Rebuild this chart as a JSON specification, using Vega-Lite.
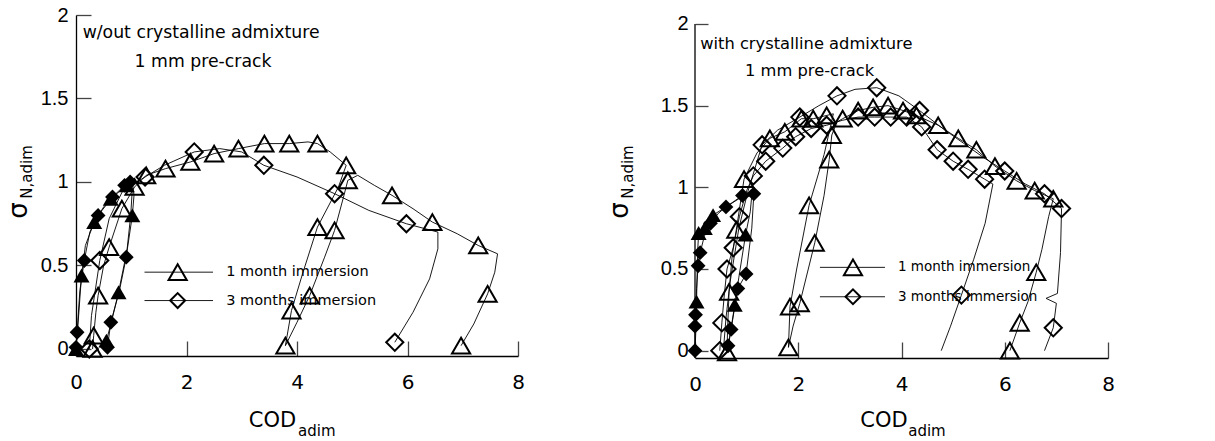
{
  "$schema": "https://vega.github.io/schema/vega-lite/v6.json",
  "background": "white",
  "padding": {"left": 5, "top": 5, "right": 5, "bottom": 5},
  "spacing": 81,
  "config": {
    "view": {"stroke": null},
    "font": "DejaVu Sans",
    "axis": {
      "grid": false,
      "domainColor": "black",
      "domainWidth": 1.3,
      "tickColor": "#444",
      "tickWidth": 1.3,
      "labelColor": "black",
      "labelFontSize": 20,
      "labelOverlap": false,
      "labelFlush": false,
      "titleColor": "black",
      "titleFontWeight": "normal"
    }
  },
  "datasets": {
    "left": [
      {"s": "a", "x": 0.0, "y": 0.0, "m": "FT"},
      {"s": "a", "x": 0.03, "y": 0.12, "m": ""},
      {"s": "a", "x": 0.1, "y": 0.44, "m": "FT"},
      {"s": "a", "x": 0.17, "y": 0.62, "m": ""},
      {"s": "a", "x": 0.33, "y": 0.76, "m": "FT"},
      {"s": "a", "x": 0.5, "y": 0.85, "m": ""},
      {"s": "a", "x": 0.63, "y": 0.9, "m": "FT"},
      {"s": "a", "x": 0.92, "y": 0.98, "m": "FT"},
      {"s": "a", "x": 1.02, "y": 1.0, "m": ""},
      {"s": "a", "x": 1.05, "y": 0.92, "m": ""},
      {"s": "a", "x": 1.02, "y": 0.8, "m": "FT"},
      {"s": "a", "x": 0.93, "y": 0.6, "m": ""},
      {"s": "a", "x": 0.77, "y": 0.34, "m": "FT"},
      {"s": "a", "x": 0.64, "y": 0.16, "m": ""},
      {"s": "a", "x": 0.55, "y": 0.05, "m": "FT"},
      {"s": "a", "x": 0.52, "y": 0.0, "m": ""},
      {"s": "b", "x": 0.0, "y": 0.01, "m": "FD"},
      {"s": "b", "x": 0.02, "y": 0.1, "m": "FD"},
      {"s": "b", "x": 0.07, "y": 0.35, "m": ""},
      {"s": "b", "x": 0.15, "y": 0.53, "m": "FD"},
      {"s": "b", "x": 0.25, "y": 0.7, "m": ""},
      {"s": "b", "x": 0.4, "y": 0.8, "m": "FD"},
      {"s": "b", "x": 0.66, "y": 0.91, "m": "FD"},
      {"s": "b", "x": 0.88, "y": 0.98, "m": "FD"},
      {"s": "b", "x": 0.98, "y": 1.0, "m": "FD"},
      {"s": "b", "x": 1.02, "y": 0.96, "m": ""},
      {"s": "b", "x": 0.99, "y": 0.8, "m": ""},
      {"s": "b", "x": 0.91, "y": 0.55, "m": "FD"},
      {"s": "b", "x": 0.78, "y": 0.34, "m": ""},
      {"s": "b", "x": 0.63, "y": 0.16, "m": "FD"},
      {"s": "b", "x": 0.57, "y": 0.01, "m": "FD"},
      {"s": "c", "x": 0.3, "y": 0.0, "m": "T"},
      {"s": "c", "x": 0.32, "y": 0.08, "m": "T"},
      {"s": "c", "x": 0.36, "y": 0.22, "m": ""},
      {"s": "c", "x": 0.4, "y": 0.32, "m": "T"},
      {"s": "c", "x": 0.5, "y": 0.5, "m": ""},
      {"s": "c", "x": 0.6, "y": 0.61, "m": "T"},
      {"s": "c", "x": 0.83, "y": 0.84, "m": "T"},
      {"s": "c", "x": 1.06, "y": 0.97, "m": "T"},
      {"s": "c", "x": 1.27, "y": 1.04, "m": "T"},
      {"s": "c", "x": 1.62, "y": 1.08, "m": "T"},
      {"s": "c", "x": 2.07, "y": 1.12, "m": "T"},
      {"s": "c", "x": 2.5, "y": 1.17, "m": "T"},
      {"s": "c", "x": 2.94, "y": 1.2, "m": "T"},
      {"s": "c", "x": 3.41, "y": 1.23, "m": "T"},
      {"s": "c", "x": 3.86, "y": 1.23, "m": "T"},
      {"s": "c", "x": 4.2, "y": 1.24, "m": ""},
      {"s": "c", "x": 4.37, "y": 1.23, "m": "T"},
      {"s": "c", "x": 4.6, "y": 1.18, "m": ""},
      {"s": "c", "x": 4.89, "y": 1.1, "m": "T"},
      {"s": "c", "x": 4.75, "y": 0.97, "m": ""},
      {"s": "c", "x": 4.37, "y": 0.73, "m": "T"},
      {"s": "c", "x": 4.1, "y": 0.45, "m": ""},
      {"s": "c", "x": 3.9, "y": 0.23, "m": "T"},
      {"s": "c", "x": 3.79, "y": 0.02, "m": "T"},
      {"s": "c", "x": 4.0, "y": 0.16, "m": ""},
      {"s": "c", "x": 4.23, "y": 0.32, "m": "T"},
      {"s": "c", "x": 4.5, "y": 0.55, "m": ""},
      {"s": "c", "x": 4.68, "y": 0.71, "m": "T"},
      {"s": "c", "x": 4.85, "y": 0.92, "m": ""},
      {"s": "c", "x": 4.92, "y": 1.01, "m": "T"},
      {"s": "c", "x": 5.1, "y": 1.04, "m": ""},
      {"s": "c", "x": 5.4, "y": 0.98, "m": ""},
      {"s": "c", "x": 5.72, "y": 0.92, "m": "T"},
      {"s": "c", "x": 6.1, "y": 0.84, "m": ""},
      {"s": "c", "x": 6.45, "y": 0.76, "m": "T"},
      {"s": "c", "x": 6.9, "y": 0.69, "m": ""},
      {"s": "c", "x": 7.28, "y": 0.62, "m": "T"},
      {"s": "c", "x": 7.63, "y": 0.57, "m": ""},
      {"s": "c", "x": 7.58, "y": 0.46, "m": ""},
      {"s": "c", "x": 7.45, "y": 0.33, "m": "T"},
      {"s": "c", "x": 7.2, "y": 0.15, "m": ""},
      {"s": "c", "x": 6.97, "y": 0.02, "m": "T"},
      {"s": "d", "x": 0.24, "y": 0.0, "m": "D"},
      {"s": "d", "x": 0.28, "y": 0.2, "m": ""},
      {"s": "d", "x": 0.43, "y": 0.53, "m": "D"},
      {"s": "d", "x": 0.6, "y": 0.78, "m": ""},
      {"s": "d", "x": 0.85, "y": 0.95, "m": ""},
      {"s": "d", "x": 1.25, "y": 1.03, "m": "D"},
      {"s": "d", "x": 1.6, "y": 1.1, "m": ""},
      {"s": "d", "x": 2.14, "y": 1.18, "m": "D"},
      {"s": "d", "x": 2.6, "y": 1.2, "m": ""},
      {"s": "d", "x": 3.0, "y": 1.18, "m": ""},
      {"s": "d", "x": 3.4, "y": 1.1, "m": "D"},
      {"s": "d", "x": 4.0, "y": 1.03, "m": ""},
      {"s": "d", "x": 4.68, "y": 0.93, "m": "D"},
      {"s": "d", "x": 5.3, "y": 0.83, "m": ""},
      {"s": "d", "x": 5.98, "y": 0.75, "m": "D"},
      {"s": "d", "x": 6.55, "y": 0.7, "m": ""},
      {"s": "d", "x": 6.55, "y": 0.6, "m": ""},
      {"s": "d", "x": 6.4, "y": 0.42, "m": ""},
      {"s": "d", "x": 6.1, "y": 0.22, "m": ""},
      {"s": "d", "x": 5.77, "y": 0.04, "m": "D"}
    ],
    "right": [
      {"s": "a", "x": 0.0, "y": 0.0, "m": ""},
      {"s": "a", "x": 0.02, "y": 0.15, "m": ""},
      {"s": "a", "x": 0.03, "y": 0.3, "m": "FT"},
      {"s": "a", "x": 0.05, "y": 0.6, "m": ""},
      {"s": "a", "x": 0.07, "y": 0.72, "m": "FT"},
      {"s": "a", "x": 0.19, "y": 0.75, "m": "FT"},
      {"s": "a", "x": 0.35, "y": 0.83, "m": "FT"},
      {"s": "a", "x": 0.6, "y": 0.88, "m": ""},
      {"s": "a", "x": 0.9, "y": 0.94, "m": ""},
      {"s": "a", "x": 1.1, "y": 0.95, "m": ""},
      {"s": "a", "x": 1.07, "y": 0.85, "m": ""},
      {"s": "a", "x": 0.98, "y": 0.71, "m": "FT"},
      {"s": "a", "x": 0.85, "y": 0.45, "m": ""},
      {"s": "a", "x": 0.77, "y": 0.28, "m": "FT"},
      {"s": "a", "x": 0.68, "y": 0.1, "m": ""},
      {"s": "a", "x": 0.64, "y": 0.0, "m": ""},
      {"s": "b", "x": 0.0, "y": 0.0, "m": "FD"},
      {"s": "b", "x": 0.0, "y": 0.15, "m": "FD"},
      {"s": "b", "x": 0.01, "y": 0.22, "m": "FD"},
      {"s": "b", "x": 0.03, "y": 0.38, "m": ""},
      {"s": "b", "x": 0.06, "y": 0.52, "m": "FD"},
      {"s": "b", "x": 0.1, "y": 0.6, "m": "FD"},
      {"s": "b", "x": 0.18, "y": 0.7, "m": ""},
      {"s": "b", "x": 0.3, "y": 0.78, "m": "FD"},
      {"s": "b", "x": 0.45, "y": 0.84, "m": ""},
      {"s": "b", "x": 0.6, "y": 0.88, "m": "FD"},
      {"s": "b", "x": 0.92, "y": 0.95, "m": "FD"},
      {"s": "b", "x": 1.14, "y": 0.96, "m": "FD"},
      {"s": "b", "x": 1.1, "y": 0.75, "m": ""},
      {"s": "b", "x": 0.99, "y": 0.47, "m": "FD"},
      {"s": "b", "x": 0.83, "y": 0.38, "m": "FD"},
      {"s": "b", "x": 0.76, "y": 0.25, "m": ""},
      {"s": "b", "x": 0.7, "y": 0.13, "m": "FD"},
      {"s": "b", "x": 0.64, "y": 0.03, "m": "FD"},
      {"s": "c", "x": 0.62, "y": -0.01, "m": "T"},
      {"s": "c", "x": 0.63, "y": 0.12, "m": ""},
      {"s": "c", "x": 0.66, "y": 0.36, "m": "T"},
      {"s": "c", "x": 0.72, "y": 0.58, "m": ""},
      {"s": "c", "x": 0.8, "y": 0.74, "m": "T"},
      {"s": "c", "x": 0.95, "y": 1.05, "m": "T"},
      {"s": "c", "x": 1.2, "y": 1.21, "m": ""},
      {"s": "c", "x": 1.45, "y": 1.3, "m": "T"},
      {"s": "c", "x": 1.74, "y": 1.34, "m": "T"},
      {"s": "c", "x": 2.06, "y": 1.42, "m": "T"},
      {"s": "c", "x": 2.29, "y": 1.42, "m": "T"},
      {"s": "c", "x": 2.55, "y": 1.44, "m": "T"},
      {"s": "c", "x": 2.68, "y": 1.45, "m": ""},
      {"s": "c", "x": 2.5, "y": 1.2, "m": ""},
      {"s": "c", "x": 2.21, "y": 0.89, "m": "T"},
      {"s": "c", "x": 1.97, "y": 0.5, "m": ""},
      {"s": "c", "x": 1.84, "y": 0.27, "m": "T"},
      {"s": "c", "x": 1.81, "y": 0.02, "m": "T"},
      {"s": "c", "x": 1.9, "y": 0.15, "m": ""},
      {"s": "c", "x": 2.03, "y": 0.29, "m": "T"},
      {"s": "c", "x": 2.32, "y": 0.66, "m": "T"},
      {"s": "c", "x": 2.5, "y": 0.95, "m": ""},
      {"s": "c", "x": 2.6, "y": 1.17, "m": "T"},
      {"s": "c", "x": 2.65, "y": 1.32, "m": "T"},
      {"s": "c", "x": 2.75, "y": 1.4, "m": ""},
      {"s": "c", "x": 2.86, "y": 1.42, "m": "T"},
      {"s": "c", "x": 3.16, "y": 1.47, "m": "T"},
      {"s": "c", "x": 3.45, "y": 1.49, "m": "T"},
      {"s": "c", "x": 3.74, "y": 1.5, "m": "T"},
      {"s": "c", "x": 4.03, "y": 1.47, "m": "T"},
      {"s": "c", "x": 4.29, "y": 1.44, "m": "T"},
      {"s": "c", "x": 4.71, "y": 1.38, "m": "T"},
      {"s": "c", "x": 5.1, "y": 1.3, "m": "T"},
      {"s": "c", "x": 5.45, "y": 1.23, "m": "T"},
      {"s": "c", "x": 5.81, "y": 1.13, "m": "T"},
      {"s": "c", "x": 6.23, "y": 1.04, "m": "T"},
      {"s": "c", "x": 6.58, "y": 0.98, "m": "T"},
      {"s": "c", "x": 6.94, "y": 0.93, "m": "T"},
      {"s": "c", "x": 6.85, "y": 0.82, "m": ""},
      {"s": "c", "x": 6.72, "y": 0.62, "m": ""},
      {"s": "c", "x": 6.61, "y": 0.48, "m": "T"},
      {"s": "c", "x": 6.45, "y": 0.3, "m": ""},
      {"s": "c", "x": 6.29, "y": 0.17, "m": "T"},
      {"s": "c", "x": 6.1, "y": 0.0, "m": "T"},
      {"s": "d", "x": 0.48, "y": 0.0, "m": "D"},
      {"s": "d", "x": 0.52, "y": 0.17, "m": "D"},
      {"s": "d", "x": 0.57, "y": 0.35, "m": ""},
      {"s": "d", "x": 0.62, "y": 0.5, "m": "D"},
      {"s": "d", "x": 0.74, "y": 0.63, "m": "D"},
      {"s": "d", "x": 0.86, "y": 0.82, "m": "D"},
      {"s": "d", "x": 1.0, "y": 0.98, "m": ""},
      {"s": "d", "x": 1.13, "y": 1.07, "m": "D"},
      {"s": "d", "x": 1.37, "y": 1.16, "m": "D"},
      {"s": "d", "x": 1.7, "y": 1.24, "m": "D"},
      {"s": "d", "x": 1.95, "y": 1.31, "m": "D"},
      {"s": "d", "x": 2.25, "y": 1.36, "m": "D"},
      {"s": "d", "x": 2.55, "y": 1.38, "m": "D"},
      {"s": "d", "x": 2.85, "y": 1.41, "m": ""},
      {"s": "d", "x": 3.16, "y": 1.43, "m": "D"},
      {"s": "d", "x": 3.48, "y": 1.43, "m": "D"},
      {"s": "d", "x": 3.79, "y": 1.43, "m": "D"},
      {"s": "d", "x": 4.1, "y": 1.43, "m": "D"},
      {"s": "d", "x": 4.39, "y": 1.37, "m": "D"},
      {"s": "d", "x": 4.69, "y": 1.23, "m": "D"},
      {"s": "d", "x": 5.0, "y": 1.16, "m": "D"},
      {"s": "d", "x": 5.29, "y": 1.11, "m": "D"},
      {"s": "d", "x": 5.61, "y": 1.05, "m": "D"},
      {"s": "d", "x": 5.77, "y": 1.02, "m": ""},
      {"s": "d", "x": 5.62, "y": 0.78, "m": ""},
      {"s": "d", "x": 5.4, "y": 0.56, "m": ""},
      {"s": "d", "x": 5.16, "y": 0.34, "m": "D"},
      {"s": "d", "x": 4.95, "y": 0.15, "m": ""},
      {"s": "d", "x": 4.77, "y": 0.0, "m": ""},
      {"s": "e", "x": 0.55, "y": 0.0, "m": ""},
      {"s": "e", "x": 0.6, "y": 0.2, "m": ""},
      {"s": "e", "x": 0.68, "y": 0.42, "m": ""},
      {"s": "e", "x": 0.85, "y": 0.75, "m": ""},
      {"s": "e", "x": 1.02, "y": 0.97, "m": ""},
      {"s": "e", "x": 1.3, "y": 1.26, "m": "D"},
      {"s": "e", "x": 1.6, "y": 1.35, "m": ""},
      {"s": "e", "x": 2.03, "y": 1.43, "m": "D"},
      {"s": "e", "x": 2.4, "y": 1.5, "m": ""},
      {"s": "e", "x": 2.75, "y": 1.56, "m": "D"},
      {"s": "e", "x": 3.1, "y": 1.6, "m": ""},
      {"s": "e", "x": 3.52, "y": 1.61, "m": "D"},
      {"s": "e", "x": 3.95, "y": 1.56, "m": ""},
      {"s": "e", "x": 4.35, "y": 1.47, "m": "D"},
      {"s": "e", "x": 4.8, "y": 1.36, "m": ""},
      {"s": "e", "x": 5.2, "y": 1.27, "m": ""},
      {"s": "e", "x": 5.6, "y": 1.18, "m": ""},
      {"s": "e", "x": 6.0, "y": 1.1, "m": "D"},
      {"s": "e", "x": 6.4, "y": 1.02, "m": ""},
      {"s": "e", "x": 6.77, "y": 0.96, "m": "D"},
      {"s": "e", "x": 7.1, "y": 0.87, "m": "D"},
      {"s": "e", "x": 7.08, "y": 0.6, "m": ""},
      {"s": "e", "x": 7.02, "y": 0.35, "m": ""},
      {"s": "e", "x": 6.8, "y": 0.32, "m": ""},
      {"s": "e", "x": 7.0, "y": 0.29, "m": ""},
      {"s": "e", "x": 6.94, "y": 0.14, "m": "D"},
      {"s": "e", "x": 6.77, "y": 0.0, "m": ""}
    ],
    "one": [{"k": 1}]
  },
  "hconcat": [
    {
      "width": 442,
      "height": 341,
      "layer": [
        {"data": {"name": "left"}, "mark": {"type": "line", "color": "black", "strokeWidth": 0.9},
         "encoding": {
           "x": {"field": "x", "type": "quantitative", "scale": {"domain": [0, 8], "nice": false, "zero": false},
             "axis": {"values": [0, 2, 4, 6, 8], "format": "~g", "tickSize": -15, "labelPadding": 31, "labelFont": "DejaVu Sans", "labelBaseline": "top",
               "title": "COD", "titleFont": "DejaVu Sans", "titleFontSize": 21, "titleX": 196, "titleY": 70, "titleBaseline": "alphabetic", "titleAlign": "center", "titleAnchor": null}},
           "y": {"field": "y", "type": "quantitative", "scale": {"domain": [-0.042, 2], "nice": false, "zero": false},
             "axis": {"values": [0, 0.5, 1, 1.5, 2], "format": "~g", "tickSize": -15, "labelPadding": 23, "labelFont": "Liberation Sans",
               "title": "σ", "titleFont": "DejaVu Sans", "titleFontSize": 26, "titleX": -50, "titleY": 195, "titleBaseline": "alphabetic", "titleAlign": "center", "titleAngle": 270}},
           "detail": {"field": "s"}, "order": {"value": null}}},
        {"data": {"name": "left"}, "transform": [{"filter": "datum.m == 'T' || datum.m == 'D'"}],
         "mark": {"type": "point", "filled": false, "color": "black", "strokeWidth": 2, "opacity": 1},
         "encoding": {"x": {"field": "x", "type": "quantitative"}, "y": {"field": "y", "type": "quantitative"},
           "shape": {"field": "m", "scale": {"domain": ["T", "D", "FT", "FD"], "range": ["triangle-up", "diamond", "triangle-up", "diamond"]}, "legend": null},
           "size": {"field": "m", "scale": {"domain": ["T", "D", "FT", "FD"], "range": [330, 220, 300, 230]}, "legend": null}}},
        {"data": {"name": "left"}, "transform": [{"filter": "datum.m == 'FT' || datum.m == 'FD'"}],
         "mark": {"type": "point", "filled": true, "color": "black", "opacity": 1},
         "encoding": {"x": {"field": "x", "type": "quantitative"}, "y": {"field": "y", "type": "quantitative"},
           "shape": {"field": "m", "scale": {"domain": ["T", "D", "FT", "FD"], "range": ["triangle-up", "diamond", "triangle-up", "diamond"]}, "legend": null},
           "size": {"field": "m", "scale": {"domain": ["T", "D", "FT", "FD"], "range": [330, 220, 300, 230]}, "legend": null}}},
        {"data": {"name": "one"}, "mark": {"type": "rule", "color": "black", "strokeWidth": 0.9},
         "encoding": {"x": {"datum": 1.24}, "x2": {"datum": 2.48}, "y": {"datum": 0.46}}},
        {"data": {"name": "one"}, "mark": {"type": "rule", "color": "black", "strokeWidth": 0.9},
         "encoding": {"x": {"datum": 1.24}, "x2": {"datum": 2.48}, "y": {"datum": 0.29}}},
        {"data": {"name": "one"}, "mark": {"type": "point", "shape": "triangle-up", "size": 330, "filled": false, "color": "black", "strokeWidth": 2, "opacity": 1},
         "encoding": {"x": {"datum": 1.84}, "y": {"datum": 0.46}}},
        {"data": {"name": "one"}, "mark": {"type": "point", "shape": "diamond", "size": 220, "filled": false, "color": "black", "strokeWidth": 2, "opacity": 1},
         "encoding": {"x": {"datum": 1.84}, "y": {"datum": 0.29}}},
        {"data": {"name": "one"}, "mark": {"type": "text", "align": "left", "baseline": "middle", "fontSize": 14.5, "font": "DejaVu Sans"},
         "encoding": {"x": {"datum": 2.72}, "y": {"datum": 0.46}, "text": {"value": "1 month immersion"}}},
        {"data": {"name": "one"}, "mark": {"type": "text", "align": "left", "baseline": "middle", "fontSize": 14.5, "font": "DejaVu Sans"},
         "encoding": {"x": {"datum": 2.72}, "y": {"datum": 0.29}, "text": {"value": "3 months immersion"}}},
        {"data": {"name": "one"}, "mark": {"type": "text", "align": "left", "baseline": "middle", "fontSize": 17.3, "font": "DejaVu Sans"},
         "encoding": {"x": {"datum": 0.12}, "y": {"datum": 1.89}, "text": {"value": "w/out crystalline admixture"}}},
        {"data": {"name": "one"}, "mark": {"type": "text", "align": "left", "baseline": "middle", "fontSize": 17.3, "font": "DejaVu Sans"},
         "encoding": {"x": {"datum": 1.06}, "y": {"datum": 1.72}, "text": {"value": "1 mm pre-crack"}}},
        {"data": {"name": "one"}, "mark": {"type": "text", "align": "left", "baseline": "alphabetic", "fontSize": 15, "font": "DejaVu Sans"},
         "encoding": {"x": {"datum": 4.02}, "y": {"datum": -0.52}, "text": {"value": "adim"}}},
        {"data": {"name": "one"}, "mark": {"type": "text", "align": "left", "baseline": "alphabetic", "fontSize": 15, "font": "DejaVu Sans", "angle": 270},
         "encoding": {"x": {"datum": -0.8}, "y": {"datum": 0.9}, "text": {"value": "N,adim"}}}
      ]
    },
    {
      "width": 413,
      "height": 343,
      "layer": [
        {"data": {"name": "right"}, "mark": {"type": "line", "color": "black", "strokeWidth": 0.9},
         "encoding": {
           "x": {"field": "x", "type": "quantitative", "scale": {"domain": [0, 8], "nice": false, "zero": false},
             "axis": {"values": [0, 2, 4, 6, 8], "format": "~g", "tickSize": -16, "labelPadding": 32, "labelFont": "DejaVu Sans", "labelBaseline": "top",
               "title": "COD", "titleFont": "DejaVu Sans", "titleFontSize": 21, "titleX": 188.5, "titleY": 68, "titleBaseline": "alphabetic", "titleAlign": "center", "titleAnchor": null}},
           "y": {"field": "y", "type": "quantitative", "scale": {"domain": [-0.045, 2.055], "nice": false, "zero": false},
             "axis": {"values": [0, 0.5, 1, 1.5, 2], "format": "~g", "domain": false, "tickSize": -13, "labelPadding": 20, "labelFont": "Liberation Sans",
               "title": "σ", "titleFont": "DejaVu Sans", "titleFontSize": 26, "titleX": -68, "titleY": 195, "titleBaseline": "alphabetic", "titleAlign": "center", "titleAngle": 270}},
           "detail": {"field": "s"}, "order": {"value": null}}},
        {"data": {"name": "right"}, "transform": [{"filter": "datum.m == 'T' || datum.m == 'D'"}],
         "mark": {"type": "point", "filled": false, "color": "black", "strokeWidth": 2, "opacity": 1},
         "encoding": {"x": {"field": "x", "type": "quantitative"}, "y": {"field": "y", "type": "quantitative"},
           "shape": {"field": "m", "scale": {"domain": ["T", "D", "FT", "FD"], "range": ["triangle-up", "diamond", "triangle-up", "diamond"]}, "legend": null},
           "size": {"field": "m", "scale": {"domain": ["T", "D", "FT", "FD"], "range": [330, 220, 300, 230]}, "legend": null}}},
        {"data": {"name": "right"}, "transform": [{"filter": "datum.m == 'FT' || datum.m == 'FD'"}],
         "mark": {"type": "point", "filled": true, "color": "black", "opacity": 1},
         "encoding": {"x": {"field": "x", "type": "quantitative"}, "y": {"field": "y", "type": "quantitative"},
           "shape": {"field": "m", "scale": {"domain": ["T", "D", "FT", "FD"], "range": ["triangle-up", "diamond", "triangle-up", "diamond"]}, "legend": null},
           "size": {"field": "m", "scale": {"domain": ["T", "D", "FT", "FD"], "range": [330, 220, 300, 230]}, "legend": null}}},
        {"data": {"name": "one"}, "mark": {"type": "rule", "color": "black", "strokeWidth": 1.3},
         "encoding": {"x": {"datum": 0}, "y": {"datum": -0.045}, "y2": {"datum": 2}}},
        {"data": {"name": "one"}, "mark": {"type": "rule", "color": "black", "strokeWidth": 0.9},
         "encoding": {"x": {"datum": 2.42}, "x2": {"datum": 3.68}, "y": {"datum": 0.51}}},
        {"data": {"name": "one"}, "mark": {"type": "rule", "color": "black", "strokeWidth": 0.9},
         "encoding": {"x": {"datum": 2.42}, "x2": {"datum": 3.68}, "y": {"datum": 0.33}}},
        {"data": {"name": "one"}, "mark": {"type": "point", "shape": "triangle-up", "size": 330, "filled": false, "color": "black", "strokeWidth": 2, "opacity": 1},
         "encoding": {"x": {"datum": 3.06}, "y": {"datum": 0.51}}},
        {"data": {"name": "one"}, "mark": {"type": "point", "shape": "diamond", "size": 220, "filled": false, "color": "black", "strokeWidth": 2, "opacity": 1},
         "encoding": {"x": {"datum": 3.06}, "y": {"datum": 0.33}}},
        {"data": {"name": "one"}, "mark": {"type": "text", "align": "left", "baseline": "middle", "fontSize": 13.5, "font": "DejaVu Sans"},
         "encoding": {"x": {"datum": 3.93}, "y": {"datum": 0.51}, "text": {"value": "1 month immersion"}}},
        {"data": {"name": "one"}, "mark": {"type": "text", "align": "left", "baseline": "middle", "fontSize": 13.5, "font": "DejaVu Sans"},
         "encoding": {"x": {"datum": 3.93}, "y": {"datum": 0.33}, "text": {"value": "3 months immersion"}}},
        {"data": {"name": "one"}, "mark": {"type": "text", "align": "left", "baseline": "middle", "fontSize": 16.3, "font": "DejaVu Sans"},
         "encoding": {"x": {"datum": 0.1}, "y": {"datum": 1.88}, "text": {"value": "with crystalline admixture"}}},
        {"data": {"name": "one"}, "mark": {"type": "text", "align": "left", "baseline": "middle", "fontSize": 16.3, "font": "DejaVu Sans"},
         "encoding": {"x": {"datum": 0.97}, "y": {"datum": 1.71}, "text": {"value": "1 mm pre-crack"}}},
        {"data": {"name": "one"}, "mark": {"type": "text", "align": "left", "baseline": "alphabetic", "fontSize": 15, "font": "DejaVu Sans"},
         "encoding": {"x": {"datum": 4.13}, "y": {"datum": -0.52}, "text": {"value": "adim"}}},
        {"data": {"name": "one"}, "mark": {"type": "text", "align": "left", "baseline": "alphabetic", "fontSize": 15, "font": "DejaVu Sans", "angle": 270},
         "encoding": {"x": {"datum": -1.2}, "y": {"datum": 0.93}, "text": {"value": "N,adim"}}}
      ]
    }
  ]
}
